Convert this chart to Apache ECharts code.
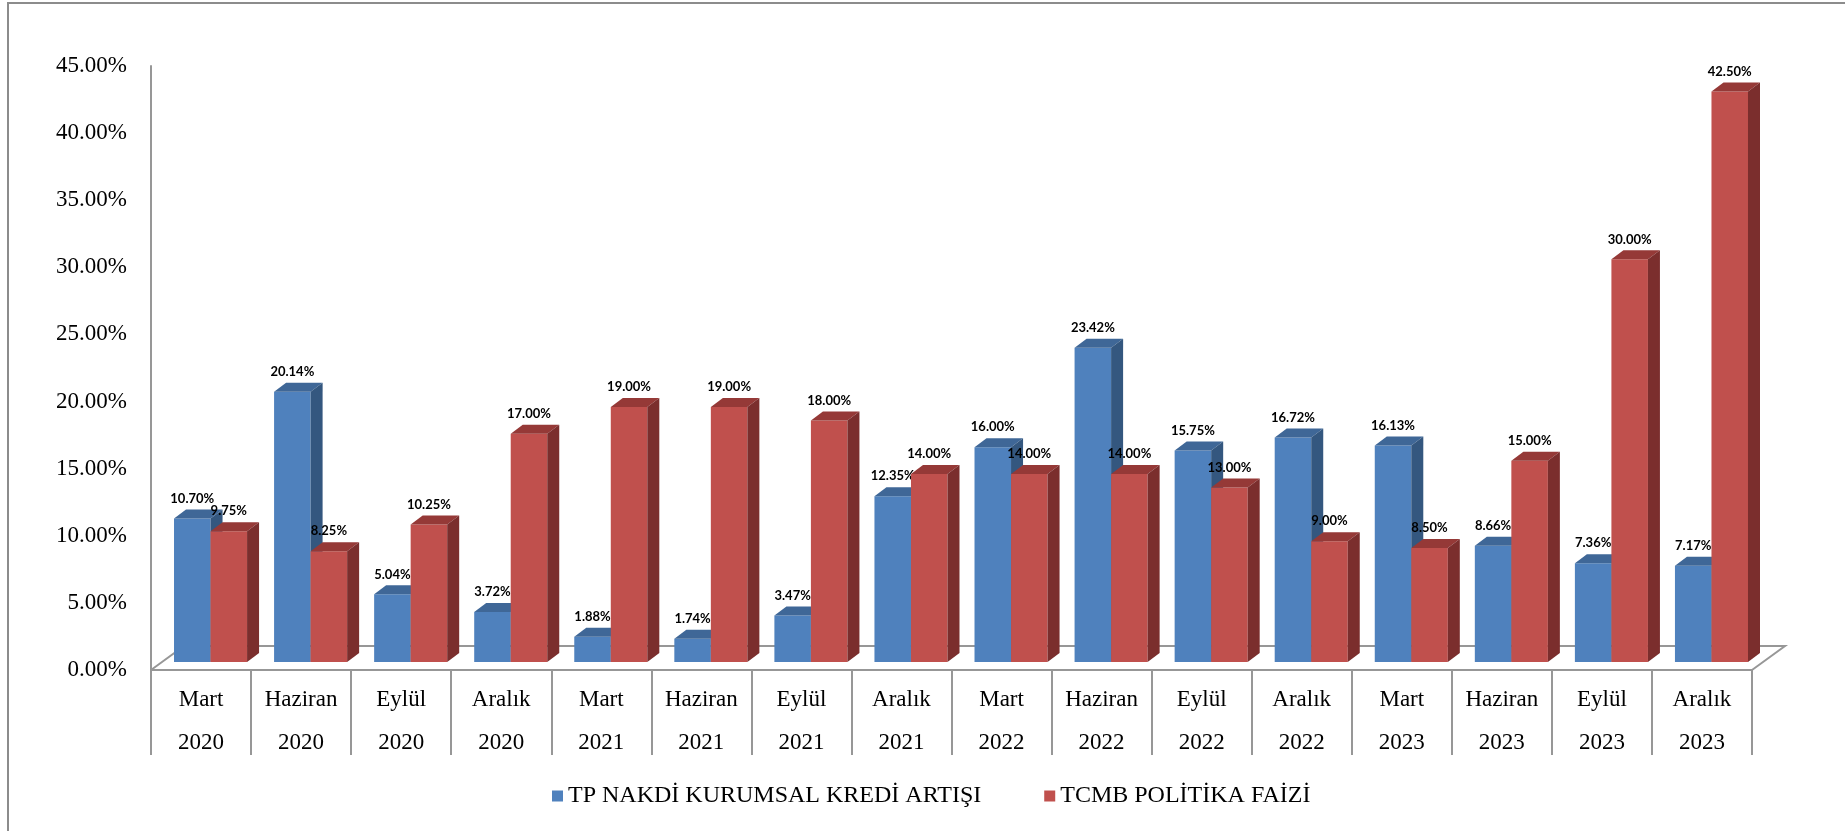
<!DOCTYPE html>
<html>
<head>
<meta charset="utf-8">
<style>
  html, body { margin: 0; padding: 0; background: #fff; }
  #chart { width: 1845px; height: 831px; }
</style>
<script src="https://cdn.jsdelivr.net/npm/echarts@6/dist/echarts.min.js"></script>
</head>
<body>
<div id="chart"></div>
<script>
// data
const months = ["Mart", "Haziran", "Eylül", "Aralık", "Mart", "Haziran", "Eylül", "Aralık",
  "Mart", "Haziran", "Eylül", "Aralık", "Mart", "Haziran", "Eylül", "Aralık"];
const years = ["2020", "2020", "2020", "2020", "2021", "2021", "2021", "2021",
  "2022", "2022", "2022", "2022", "2023", "2023", "2023", "2023"];
const seriesNames = ["TP NAKDİ KURUMSAL KREDİ ARTIŞI", "TCMB POLİTİKA FAİZİ"];
const krediArtisi = [10.70, 20.14, 5.04, 3.72, 1.88, 1.74, 3.47, 12.35,
  16.00, 23.42, 15.75, 16.72, 16.13, 8.66, 7.36, 7.17];
const politikaFaizi = [9.75, 8.25, 10.25, 17.00, 19.00, 19.00, 18.00, 14.00,
  14.00, 14.00, 13.00, 9.00, 8.50, 15.00, 30.00, 42.50];

const categories = months.map((m, i) => m + "\n" + years[i]);

// face colours: front, top, side
const palette = [
  { front: "#4F81BD", top: "#3F6797", side: "#34577F" },
  { front: "#C0504D", top: "#953937", side: "#7B2E2D" },
];

const serif = "'Liberation Serif', 'Times New Roman', serif";
const axisGray = "#979797";
const DEPTH_X = 12;
const DEPTH_Y = 9;
const LIFT = 8; // bars stand a bit behind the front edge of the floor

function barRenderer(slot) {
  const col = palette[slot];
  return function (params, api) {
    const idx = api.value(0);
    const v = api.value(1);
    const topPt = api.coord([idx, v]);
    const basePt = api.coord([idx, 0]);
    const band = api.size([1, 0])[0];
    const w = band * 0.365;
    const left = basePt[0] - band * 0.27 + slot * w;
    const yT = topPt[1] - LIFT;
    const yB = basePt[1] - LIFT;

    return {
      type: "group",
      children: [
        {
          type: "rect",
          shape: { x: left, y: yT, width: w, height: yB - yT },
          style: { fill: col.front },
        },
        {
          type: "polygon",
          shape: {
            points: [
              [left, yT], [left + DEPTH_X, yT - DEPTH_Y],
              [left + w + DEPTH_X, yT - DEPTH_Y], [left + w, yT],
            ],
          },
          style: { fill: col.top },
        },
        {
          type: "polygon",
          shape: {
            points: [
              [left + w, yT], [left + w + DEPTH_X, yT - DEPTH_Y],
              [left + w + DEPTH_X, yB - DEPTH_Y], [left + w, yB],
            ],
          },
          style: { fill: col.side },
        },
        {
          type: "text",
          style: {
            text: v.toFixed(2) + "%",
            x: left + w / 2,
            y: yT - 20,
            align: "center",
            verticalAlign: "middle",
            font: "bold 13px Lato, 'Open Sans', sans-serif",
            fill: "#000",
          },
        },
      ],
    };
  };
}

function floorRenderer(params) {
  const cs = params.coordSys;
  const yF = cs.y + cs.height;
  const dx = 33, dy = 24;
  return {
    type: "polyline",
    shape: {
      points: [
        [cs.x, yF], [cs.x + dx, yF - dy],
        [cs.x + cs.width + dx, yF - dy], [cs.x + cs.width, yF],
      ],
    },
    style: { stroke: axisGray, lineWidth: 2, fill: null },
    silent: true,
  };
}

const chart = echarts.init(document.getElementById("chart"));

const option = {
  animation: false,
  grid: { left: 151, right: 93, top: 66, bottom: 161 },
  legend: {
    data: seriesNames,
    left: 552,
    top: 784,
    padding: 0,
    itemGap: 63,
    itemWidth: 11,
    itemHeight: 11,
    icon: "rect",
    selectedMode: false,
    textStyle: { fontFamily: serif, fontSize: 24, color: "#000" },
  },
  xAxis: {
    type: "category",
    data: categories,
    axisLine: { show: true, lineStyle: { color: axisGray, width: 2 } },
    axisTick: { show: true, interval: 0, length: 85, lineStyle: { color: axisGray, width: 2 } },
    axisLabel: {
      interval: 0,
      margin: 8,
      lineHeight: 43,
      fontFamily: serif,
      fontSize: 23,
      color: "#000",
    },
  },
  yAxis: {
    type: "value",
    min: 0,
    max: 45,
    interval: 5,
    axisLine: { show: true, lineStyle: { color: axisGray, width: 2 } },
    axisTick: { show: false },
    splitLine: { show: false },
    axisLabel: {
      margin: 24,
      fontFamily: serif,
      fontSize: 23,
      color: "#000",
      formatter: (v) => v.toFixed(2) + "%",
    },
  },
  series: [
    {
      name: "floor",
      type: "custom",
      renderItem: floorRenderer,
      data: [[0, 0]],
      z: 1,
    },
    {
      name: seriesNames[0],
      type: "custom",
      renderItem: barRenderer(0),
      itemStyle: { color: palette[0].front },
      data: krediArtisi.map((v, i) => [i, v]),
      z: 2,
    },
    {
      name: seriesNames[1],
      type: "custom",
      renderItem: barRenderer(1),
      itemStyle: { color: palette[1].front },
      data: politikaFaizi.map((v, i) => [i, v]),
      z: 3,
    },
  ],
  graphic: [
    {
      type: "rect",
      shape: { x: 8, y: 3, width: 1850, height: 840 },
      style: { fill: null, stroke: "#8C8C8C", lineWidth: 2 },
      silent: true,
    },
  ],
};

chart.setOption(option);
</script>
</body>
</html>
